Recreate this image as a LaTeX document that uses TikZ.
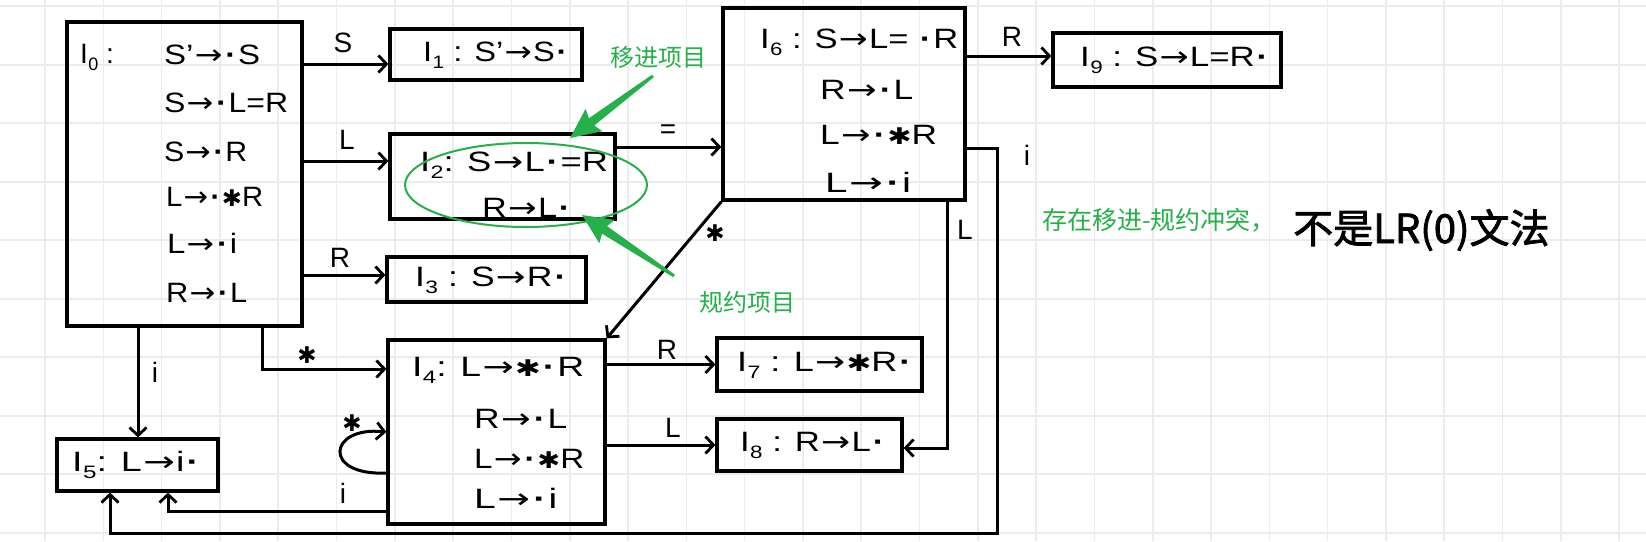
\documentclass[tikz,border=0pt]{standalone}
\usepackage{graphicx}
\usepackage{fontspec}
\setmainfont{Liberation Sans}
\newfontfamily\dv{DejaVu Sans}
\newfontfamily\cjk{Noto Sans CJK SC}
\newfontfamily\cjkb[FakeBold=2]{Noto Sans CJK SC}
\usetikzlibrary{arrows.meta,calc,shapes.geometric}
\definecolor{gridc}{RGB}{236,236,240}
\definecolor{grn}{RGB}{38,176,74}
\newcommand\ra{\kern1pt{\dv→}\kern1pt}
\newcommand\dt{\kern1.5pt{\bfseries·}\kern1.5pt}
\newcommand\st{{\dv\fontsize{23}{23}\selectfont ✱}}
\newcommand\II[1]{I\kern0.3pt\raisebox{-0.25em}{\fontsize{18}{18}\selectfont #1}}
\newcommand\fw[2]{\resizebox{#1pt}{\height}{#2}}
\begin{document}
\begin{tikzpicture}[x=1pt,y=-1pt,
  box/.style={draw,line width=3.2pt,rectangle,inner sep=0pt},
  edge/.style={line width=3pt,-{Straight Barb[length=8pt,width=17pt,line width=2.8pt]}},
  txt/.style={inner sep=0pt,anchor=west,font=\fontsize{28}{28}\selectfont},
  lbl/.style={inner sep=0pt,font=\fontsize{28}{28}\selectfont},
  gtxt/.style={inner sep=0pt,text=grn,font=\cjk\fontsize{24}{24}\selectfont},
  gridline/.style={draw=gridc,line width=1.6pt}]
\path[use as bounding box] (0,0) rectangle (1646,541);
\fill[white] (0,0) rectangle (1646,541);
\foreach \k in {0,...,27} \draw[gridline] ({45+58.3*\k},0) -- ({45+58.3*\k},541);
\foreach \k in {0,...,9} \draw[gridline] (0,{6.2+58.5*\k}) -- (1646,{6.2+58.5*\k});

% boxes
\node[box,minimum width=235pt,minimum height=304pt] (I0) at (184.5,174) {};
\node[box,minimum width=192pt,minimum height=51pt] (I1) at (486,54.5) {};
\node[box,minimum width=225pt,minimum height=85pt] (I2) at (502.5,176.5) {};
\node[box,minimum width=199pt,minimum height=45pt] (I3) at (486.5,279.5) {};
\node[box,minimum width=242pt,minimum height=192pt] (I6) at (844,104) {};
\node[box,minimum width=228pt,minimum height=54pt] (I9) at (1167,60) {};
\node[box,minimum width=217pt,minimum height=184pt] (I4) at (496.5,432) {};
\node[box,minimum width=205pt,minimum height=53pt] (I7) at (819.5,364.5) {};
\node[box,minimum width=185pt,minimum height=52pt] (I8) at (809.5,445) {};
\node[box,minimum width=161pt,minimum height=52pt] (I5) at (137.5,465) {};

% box texts
\node[txt] (t0) at (80,57) {\II{0} :};
\node[txt] (t0a) at (164,55) {\fw{96}{S'\ra\dt S}};
\node[txt] (t0b) at (164,103) {\fw{124}{S\ra\dt L=R}};
\node[txt] (t0c) at (164,152) {\fw{83}{S\ra\dt R}};
\node[txt] (t0d) at (166,197) {\fw{97}{L\ra\dt\st R}};
\node[txt] (t0e) at (167,243) {\fw{70}{L\ra\dt i}};
\node[txt] (t0f) at (166,293) {\fw{81}{R\ra\dt L}};
\node[txt] (t1) at (423,55) {\fw{146}{\II{1} : S'\ra S\dt}};
\node[txt] (t2a) at (420,165) {\fw{188}{\II{2}: S\ra L\dt=R}};
\node[txt] (t2b) at (482,208) {\fw{90}{R\ra L\dt}};
\node[txt] (t3) at (415,280) {\fw{153}{\II{3} : S\ra R\dt}};
\node[txt] (t6a) at (760,42) {\fw{198}{\II{6} : S\ra L= \dt R}};
\node[txt] (t6b) at (820,90) {\fw{93}{R\ra\dt L}};
\node[txt] (t6c) at (820,135) {\fw{117}{L\ra\dt\st R}};
\node[txt] (t6d) at (825,182) {\fw{86}{L\ra\dt i}};
\node[txt] (t9) at (1080,60) {\fw{190}{\II{9} : S\ra L=R\dt}};
\node[txt] (t4a) at (412,370) {\fw{172}{\II{4}: L\ra\st\dt R}};
\node[txt] (t4b) at (474,419) {\fw{93}{R\ra\dt L}};
\node[txt] (t4c) at (474,459) {\fw{110}{L\ra\dt\st R}};
\node[txt] (t4d) at (474,498) {\fw{83}{L\ra\dt i}};
\node[txt] (t7) at (737,365) {\fw{176}{\II{7} : L\ra\st R\dt}};
\node[txt] (t8) at (740,445) {\fw{146}{\II{8} : R\ra L\dt}};
\node[txt] (t5) at (72,465) {\fw{129}{\II{5}: L\ra i\dt}};

% connector end points
\coordinate (aS) at ([yshift=-9.5pt]I1.west);
\coordinate (aL) at ([yshift=15.5pt]I2.west);
\coordinate (aR) at ([yshift=4.5pt]I3.west);
\coordinate (ai) at ([xshift=-46.5pt]I0.south);
\coordinate (as) at ([xshift=77.5pt]I0.south);
\coordinate (a4s) at ([yshift=63pt]I4.west);
\coordinate (a6) at ([yshift=-43pt]I6.west);
\coordinate (a9) at ([yshift=4pt]I9.west);
\coordinate (b6) at ([yshift=-44pt]I6.east);
\coordinate (bc1) at (997,148);
\coordinate (bc2) at (997,533);
\coordinate (b5) at ([xshift=-27.5pt]I5.south);
\coordinate (c6) at ([xshift=103pt]I6.south);
\coordinate (c8) at ([yshift=-3pt]I8.east);
\coordinate (d4) at ([yshift=-79pt]I4.west);
\coordinate (d5) at ([xshift=30.5pt]I5.south);
\coordinate (l1) at ([yshift=-41pt]I4.west);

% connectors
\draw[edge] (I0.east |- aS) -- (aS);
\draw[edge] (I0.east |- aL) -- (aL);
\draw[edge] (I0.east |- aR) -- (aR);
\draw[edge] (ai) -- (ai |- I5.north);
\draw[edge] (as) |- (a4s);
\draw[edge] (I2.east |- a6) -- (a6);
\draw[edge] (I6.east |- a9) -- (a9);
\draw[edge] (I6.south west) -- (I4.north east);
\draw[edge] (b6) -- (bc1) -- (bc2) -| (b5);
\draw[edge] (c6) |- (c8);
\draw[edge] (I4.east |- I7.west) -- (I7.west);
\draw[edge] (I4.east |- I8.west) -- (I8.west);
\draw[edge] (d4) -| (d5);
\draw[edge] (l1) .. controls (322,476) and (328,426) .. (I4.west);

% edge labels
\node[lbl] (eS) at (343,43) {S};
\node[lbl] (eL) at (347,140) {L};
\node[lbl] (eR) at (340,258) {R};
\node[lbl] (eEq) at (668,132) {=};
\node[lbl] (eR9) at (1012,37) {R};
\node[lbl] (eSt6) at (715,233) {\st};
\node[lbl] (ei6) at (1027,155) {i};
\node[lbl] (eL6) at (965,230) {L};
\node[lbl] (eR7) at (667,350) {R};
\node[lbl] (eL8) at (673,428) {L};
\node[lbl] (ei0) at (155,372) {i};
\node[lbl] (eSt0) at (307,355) {\st};
\node[lbl] (eSt4) at (352,423) {\st};
\node[lbl] (ei4) at (343,493) {i};

% green annotations
\node[draw=grn,line width=2pt,ellipse,minimum width=242pt,minimum height=84pt,inner sep=0pt] (ell) at (526,185) {};
\node[gtxt] (shiftlbl) at (658,57) {移进项目};
\node[gtxt] (redlbl) at (747,302) {规约项目};
\fill[grn,shift={(570,138)},rotate=36.8] (0,0) -- (30,14) -- (27,4.5) -- (103.6,1.5) -- (103.6,-1.5) -- (27,-4.5) -- (30,-14) -- cycle;
\fill[grn,shift={(582,215)},rotate=-33.5] (0,0) -- (30,14) -- (27,4.5) -- (110.4,1.5) -- (110.4,-1.5) -- (27,-4.5) -- (30,-14) -- cycle;
\node[gtxt,anchor=west,font=\cjk\fontsize{25}{25}\selectfont] (conflict) at (1042,220) {存在移进-规约冲突，};
\node[inner sep=0pt,anchor=west,font=\cjkb\fontsize{40}{40}\selectfont] (notlr) at (1293,230) {不是LR(0)文法};
\end{tikzpicture}
\end{document}
